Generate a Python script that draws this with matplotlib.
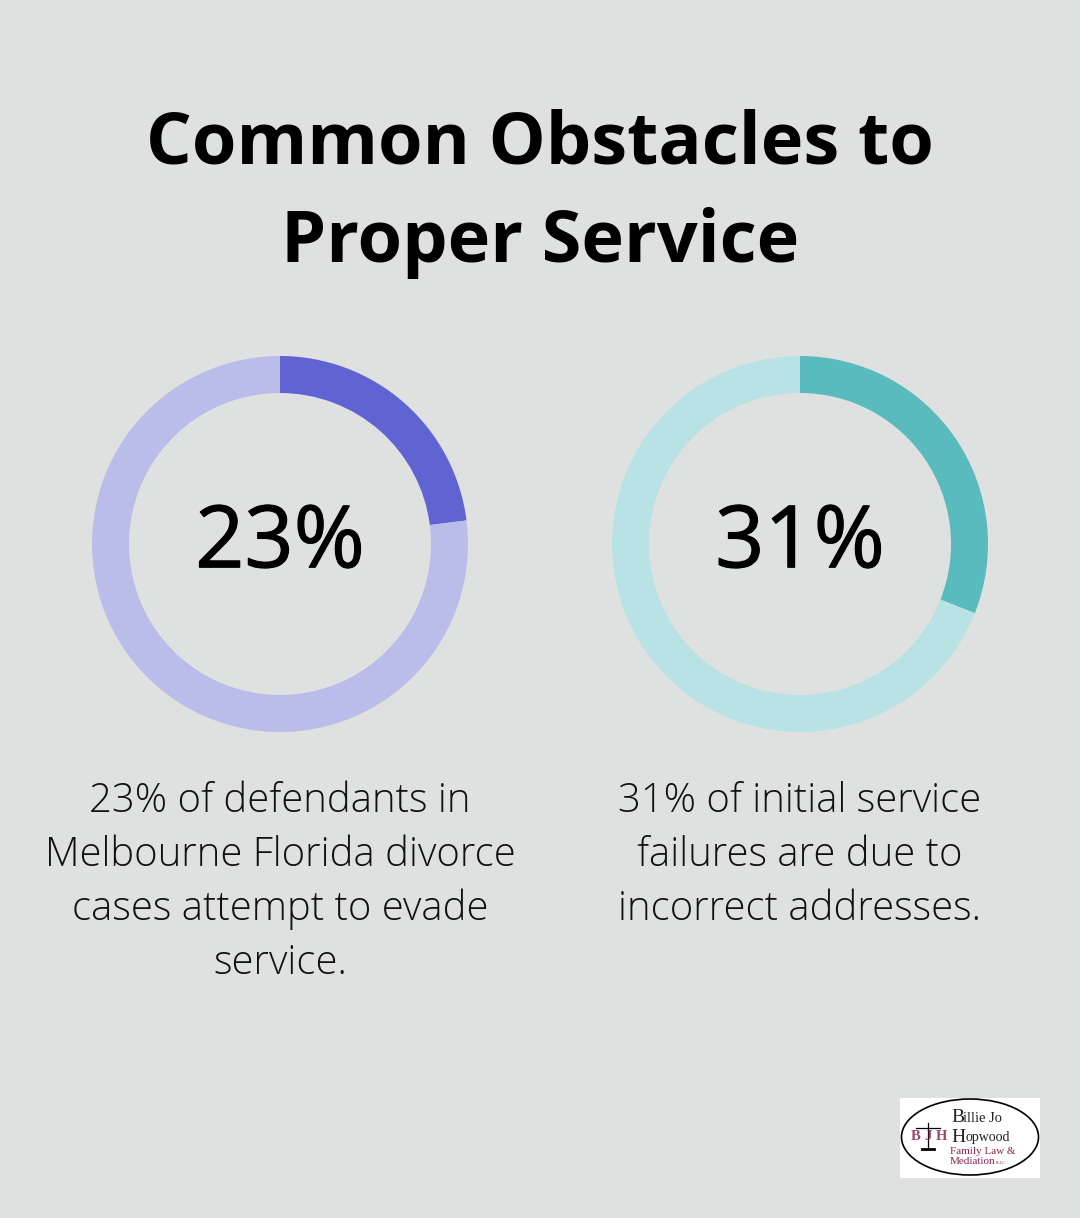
import matplotlib

matplotlib.use("Agg")

import matplotlib.patheffects as pe
import matplotlib.pyplot as plt
from matplotlib.patches import Ellipse, Rectangle

W, H = 1080, 1218
BG = "#dfe1e0"

title_lines = ["Common Obstacles to", "Proper Service"]
percents = [23, 31]
captions = [
    ["23% of defendants in", "Melbourne Florida divorce", "cases attempt to evade", "service."],
    ["31% of initial service", "failures are due to", "incorrect addresses."],
]
main_colors = ["#6064d2", "#5abbbf"]
pale_colors = ["#babce9", "#b9e2e4"]
centers_x = [280, 800]
LOGO_RED = "#8c2450"
LOGO_INK = "#222222"


def add_donut(fig, cx, cy, radius, value, main, pale):
    ax = fig.add_axes([(cx - radius) / W, 1 - (cy + radius) / H, 2 * radius / W, 2 * radius / H])
    ax.pie(
        [value, 100 - value],
        colors=[main, pale],
        startangle=90,
        counterclock=False,
        radius=1.0,
        wedgeprops={"width": 37 / radius, "linewidth": 0},
    )
    ax.set_xlim(-1, 1)
    ax.set_ylim(-1, 1)
    ax.set_axis_off()
    return ax


fig = plt.figure(figsize=(W / 100, H / 100), dpi=100, facecolor=BG)
plt.rcParams["font.family"] = "Open Sans"

for i, line in enumerate(title_lines):
    fig.text(540 / W, 1 - (144 + 99 * i) / H, line, ha="center", va="center",
             fontsize=51.8, fontweight="bold", color="black")

for cx, value, main, pale in zip(centers_x, percents, main_colors, pale_colors):
    add_donut(fig, cx, 544, 188, value, main, pale)
    # the reference number is a touch heavier than the regular weight
    fig.text(cx / W, 1 - 545 / H, f"{value}%", ha="center", va="center",
             fontsize=62, color="black",
             path_effects=[pe.withStroke(linewidth=0.8, foreground="black")])

for cx, lines in zip(centers_x, captions):
    for i, line in enumerate(lines):
        fig.text(cx / W, 1 - (801.5 + 54 * i) / H, line, ha="center", va="center",
                 fontsize=28.8, fontweight="light", color="#111111")

# small logo, bottom right
logo = fig.add_axes([900 / W, 1 - 1178 / H, 140 / W, 80 / H])
logo.set_xlim(0, 140)
logo.set_ylim(80, 0)
logo.set_axis_off()
logo.add_patch(Rectangle((0, 0), 140, 80, facecolor="white", edgecolor="none"))
logo.add_patch(Ellipse((70, 39), 137, 76, facecolor="white", edgecolor="black", linewidth=1.2))
serif = "Liberation Serif"
logo.text(51, 20, "B", family=serif, fontsize=14, va="center", color=LOGO_INK)
logo.text(63, 21, "illie Jo", family=serif, fontsize=10.5, va="center", color=LOGO_INK)
logo.text(51, 39, "H", family=serif, fontsize=14, va="center", color=LOGO_INK)
logo.text(65, 40, "opwood", family=serif, fontsize=10, va="center", color=LOGO_INK)
logo.text(50, 54, "Family Law &", family=serif, fontsize=8, va="center", color=LOGO_RED)
logo.text(50, 64, "Mediation", family=serif, fontsize=8, va="center", color=LOGO_RED)
logo.text(96, 65, "PLLC", family=serif, fontsize=3, va="center", color=LOGO_RED)
logo.plot([28, 28], [25, 50], color="black", linewidth=0.9)
logo.plot([16, 40], [30, 30], color="black", linewidth=0.9)
logo.plot([22, 34], [51, 51], color="black", linewidth=2)
for x, letter in zip([16, 28, 41], "BJH"):
    logo.text(x, 39, letter, family=serif, fontsize=10.5, fontweight="bold",
              ha="center", va="center", color=LOGO_RED, alpha=0.85)

fig.savefig("out.png", dpi=100, facecolor=BG)
